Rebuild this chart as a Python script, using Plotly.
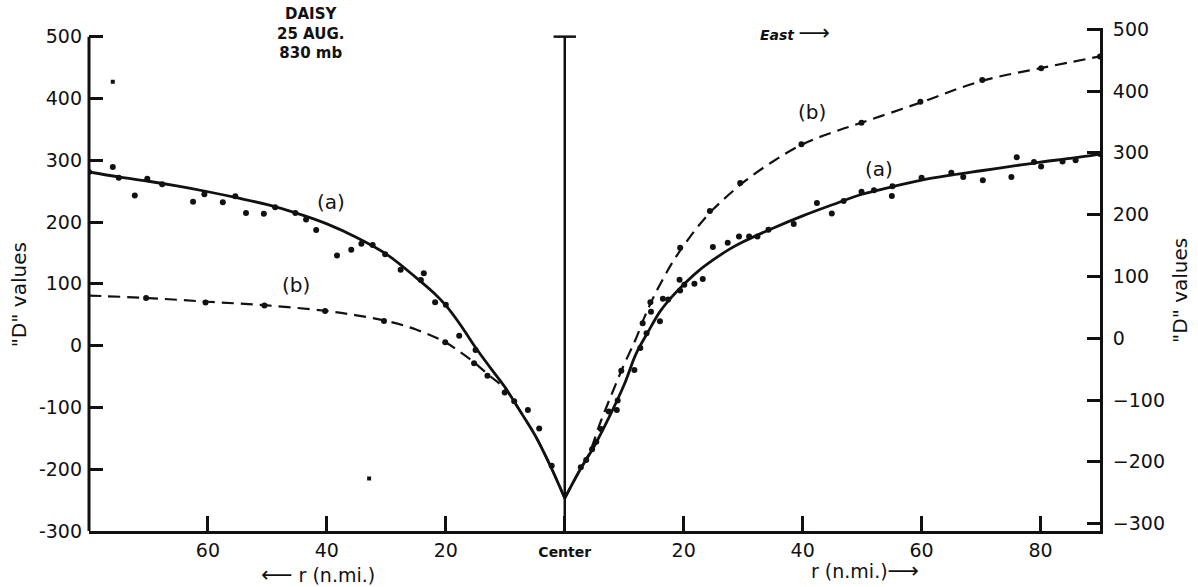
import plotly.graph_objects as go

# ---------------- data ----------------
# fitted curve (a), solid
A_X = [-80, -75, -70, -65, -60, -55, -50, -45, -40, -35, -30, -25, -22, -20, -17.5, -15, -12.5, -10, -7.5, -5, -2.5, 0,
       2.5, 5, 7.5, 10, 12, 14, 16, 18, 20, 22.5, 25, 27.5, 30, 35, 40, 45, 50, 55, 60, 65, 70, 75, 80, 85, 90]
A_Y = [281, 273, 266, 258, 249, 239, 228, 214, 197, 175, 148, 110, 85, 65, 33, -3, -36, -68, -106, -145, -193, -247,
       -202, -162, -115, -63, -13, 22, 55, 79, 99, 121, 139, 155, 168, 190, 210, 228, 245, 257, 268, 276, 283, 290, 297, 303, 310]

# fitted curve (b), dashed (coincides with (a) close to the centre)
B_X = [-80, -70, -60, -50, -40, -35, -30, -25, -20, -17.5, -15, -12.5, -10, -7.5, -5, -2.5, 0,
       2.5, 4, 6, 8, 10, 12, 13.4, 15, 16.7, 18, 20, 22.5, 25, 30, 35, 40, 45, 50, 60, 70, 80, 90]
B_Y = [81, 77, 71, 65, 56, 49, 40, 26, 5, -11, -29, -50, -70, -106, -145, -193, -247,
       -202, -177, -124, -76, -30, 12, 46, 80, 111, 133, 162, 194, 221, 264, 298, 326, 345, 361, 394, 428, 449, 468]

# observations belonging to (a)
PTS_A_X = [-80, -76.0, -75.0, -72.3, -70.2, -67.7, -62.5, -60.6, -57.5, -55.4, -53.6, -50.6, -48.7, -45.3, -43.5, -41.8,
           -38.3, -35.9, -34.2, -32.3, -30.2, -27.6, -24.2, -23.7, -21.8, -20.0, -17.75, -15.0, -8.5, -6.2, -4.3, -2.2,
           2.7, 3.6, 4.6, 5.3, 6.1, 7.4, 8.75, 8.9, 11.7, 12.7, 13.75, 16.0, 16.5, 17.4, 19.3, 19.4, 20.1, 21.8,
           23.2, 24.9, 27.4, 29.3, 31.0, 32.4, 34.25, 38.5, 42.4, 44.9, 46.9, 49.9, 52.0, 55.1, 55.0, 60.0, 65.0,
           67.0, 70.3, 75.1, 76.0, 78.9, 80.1, 83.7, 85.9, 90.0]
PTS_A_Y = [281, 289, 271.5, 243, 270, 261, 233, 245, 232, 241.6, 214.5, 213.4, 224, 214.5, 204, 187,
           146, 155, 165, 163, 148, 122.6, 106, 117, 70, 66, 16, -7, -90, -104, -134, -194.6,
           -197, -185, -167.6, -155.7, -135, -106.5, -104, -89, -39.4, -3.8, 20, 39.5, 75.7, 74.6, 106.5, 89, 98.4, 100,
           108, 159.4, 166.5, 176.7, 176.7, 176.7, 187.6, 197, 231, 214, 234, 249, 251.6, 258, 242, 271.5, 279.6,
           273, 267.7, 273, 305, 297, 290, 298, 300, 310]

# observations belonging to (b)
PTS_B_X = [-70.4, -60.4, -50.5, -40.3, -30.4, -20.1, -15.25, -13.0, -10.1,
           9.5, 13.1, 14.4, 14.5, 19.4, 24.4, 29.5, 39.8, 49.9, 59.8, 70.2, 80.1, 90.0]
PTS_B_Y = [77, 69.6, 65, 56, 39.7, 5.4, -28.7, -48.6, -75.7,
           -40.5, 36, 70, 55, 158.4, 218, 263, 326, 360.7, 394.7, 430, 449, 468]

# stray marks on the original sheet
STRAY_X = [-32.9, -76.0]
STRAY_Y = [-215, 427]

# axes
X_RANGE = [-80, 90]
Y_RANGE = [-300, 514]
Y2_RANGE = [-312, 502]          # right-hand scale sits slightly higher on the original
CENTER_LINE_X = [0, 0]
CENTER_LINE_Y = [-300, 500]
X_TICKVALS = [-60, -40, -20, 0, 20, 40, 60, 80]
X_TICKTEXT = ["60", "40", "20", "<b><span style='font-size:14px'>Center</span></b>", "20", "40", "60", "80"]
Y_TICKVALS = [500, 400, 300, 200, 100, 0, -100, -200, -300]
Y_TICKTEXT_LEFT = ["500", "400", "300", "200", "100", "0", "-100", "-200", "-300"]
Y_TICKTEXT_RIGHT = ["500", "400", "300", "200", "100", "0", "\u2212100", "\u2212200", "\u2212300"]

FONT = "DejaVu Sans"
INK = "#111111"


def split(xs, ys):
    west = [(x, y) for x, y in zip(xs, ys) if x <= 0]
    east = [(x, y) for x, y in zip(xs, ys) if x >= 0]
    return ([p[0] for p in west], [p[1] for p in west]), ([p[0] for p in east], [p[1] for p in east])


fig = go.Figure()

# centre line with cap
fig.add_trace(go.Scatter(x=CENTER_LINE_X, y=CENTER_LINE_Y, mode="lines",
                         line=dict(color=INK, width=2.5), hoverinfo="skip"))
fig.add_trace(go.Scatter(x=[CENTER_LINE_X[-1]], y=[CENTER_LINE_Y[-1]], mode="markers",
                         marker=dict(symbol="line-ew", size=16, line=dict(color=INK, width=2.5)),
                         hoverinfo="skip"))

# curves
for xs, ys in split(A_X, A_Y):
    fig.add_trace(go.Scatter(x=xs, y=ys, mode="lines", line=dict(color=INK, width=2.8, shape="spline", smoothing=1.0)))
for xs, ys in split(B_X, B_Y):
    fig.add_trace(go.Scatter(x=xs, y=ys, mode="lines",
                             line=dict(color=INK, width=2.2, dash="12px,7px", shape="spline", smoothing=1.0)))

# observations
fig.add_trace(go.Scatter(x=PTS_A_X, y=PTS_A_Y, mode="markers", marker=dict(color=INK, size=6)))
fig.add_trace(go.Scatter(x=PTS_B_X, y=PTS_B_Y, mode="markers", marker=dict(color=INK, size=6)))
fig.add_trace(go.Scatter(x=STRAY_X, y=STRAY_Y, mode="markers",
                         marker=dict(color=INK, size=4, symbol="square")))

# empty trace so that the right-hand scale is drawn
fig.add_trace(go.Scatter(x=[None], y=[None], yaxis="y2", mode="markers", hoverinfo="skip"))

tickfont = dict(family=FONT, size=19, color=INK)

fig.update_layout(
    width=1198, height=587,
    margin=dict(l=89, r=98, t=28, b=56),
    paper_bgcolor="white", plot_bgcolor="white",
    showlegend=False,
    font=dict(family=FONT, color=INK),
    xaxis=dict(range=X_RANGE, showgrid=False, zeroline=False, showline=True, linecolor=INK, linewidth=3,
               ticks="inside", ticklen=15, tickwidth=2.5, tickcolor=INK,
               tickvals=X_TICKVALS, ticktext=X_TICKTEXT, tickfont=tickfont, ticklabelstandoff=0),
    yaxis=dict(range=Y_RANGE, showgrid=False, zeroline=False, showline=False,
               ticks="inside", ticklen=14, tickwidth=2.5, tickcolor=INK,
               tickvals=Y_TICKVALS, ticktext=Y_TICKTEXT_LEFT, tickfont=tickfont, ticklabelstandoff=6),
    yaxis2=dict(range=Y2_RANGE, overlaying="y", side="right", anchor="x",
                showgrid=False, zeroline=False, showline=True, linecolor=INK, linewidth=3,
                ticks="inside", ticklen=13, tickwidth=2.5, tickcolor=INK,
                tickvals=Y_TICKVALS, ticktext=Y_TICKTEXT_RIGHT, tickfont=tickfont, ticklabelstandoff=6),
    shapes=[dict(type="line", xref="paper", yref="y", x0=0, x1=0, y0=Y_TICKVALS[-1], y1=Y_TICKVALS[0],
                 line=dict(color=INK, width=3))],
)


def note(x, y, text, size, ref="data", angle=0):
    r = ("x", "y") if ref == "data" else ("paper", "paper")
    return dict(x=x, y=y, xref=r[0], yref=r[1], showarrow=False, text=text, textangle=angle,
                xanchor="center", yanchor="middle", font=dict(family=FONT, size=size, color=INK))


ann = [
    note(-42.7, 505, "<b>DAISY<br>25 AUG.<br>830 mb</b>", 15),
    note(38.7, 507, "<b><i>East</i></b> <span style='font-size:22px'>\u27f6</span>", 14),
    note(-39.3, 233, "(a)", 20),
    note(-45.2, 98, "(b)", 20),
    note(52.8, 286, "(a)", 20),
    note(41.6, 378, "(b)", 20),
    note(-0.069, 0.469, "\"D\" values", 20, "paper", -90),
    note(1.079, 0.479, "\"D\" values", 20, "paper", -90),
    note(0.2265, -0.0855, "<span style='font-size:22px'>\u27f5</span> r (n.mi.)", 19, "paper"),
    note(0.7676, -0.0795, "r (n.mi.)<span style='font-size:22px'>\u27f6</span>", 19, "paper"),
]
fig.update_layout(annotations=ann)

fig.write_html("out.html")
